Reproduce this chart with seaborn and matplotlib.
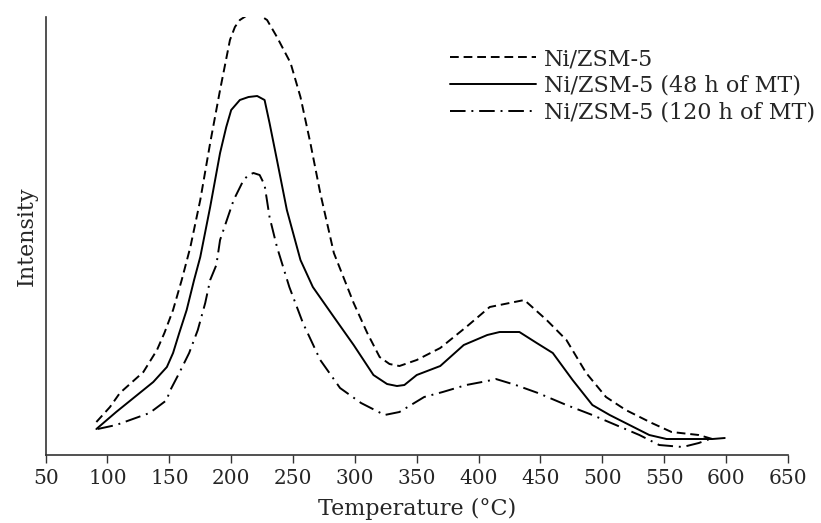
import numpy as np
import pandas as pd
import matplotlib
matplotlib.use("Agg")
import matplotlib.pyplot as plt
import seaborn as sns

# ---- data (intensity in arbitrary units) ----
t_fresh = [91, 102, 110, 129, 140, 146, 153, 160, 167, 175, 183, 191, 199, 203, 207, 212, 218,
           224, 229, 237, 248, 256, 264, 272, 283, 299, 310, 320, 328, 336, 350, 369, 390, 409,
           425, 437, 455, 471, 487, 503, 519, 540, 556, 578, 589]
i_fresh = [33, 48, 62, 83, 105, 122, 145, 175, 208, 255, 312, 365, 415, 428, 435, 439, 440,
           439, 435, 418, 392, 358, 312, 262, 202, 152, 122, 98, 91, 89, 95, 107, 128, 148,
           152, 155, 135, 115, 82, 58, 45, 32, 23, 20, 16]

t_48h = [91, 107, 124, 137, 148, 153, 158, 164, 170, 175, 183, 191, 196, 200, 207, 214, 221,
         227, 231, 237, 245, 256, 266, 283, 299, 315, 326, 334, 340, 350, 369, 388, 407, 417,
         433, 447, 460, 476, 492, 506, 522, 538, 552, 589, 599]
i_48h = [26, 43, 60, 73, 88, 102, 122, 145, 175, 198, 248, 302, 328, 345, 355, 358, 359,
         355, 332, 295, 245, 195, 168, 138, 110, 80, 71, 69, 70, 80, 89, 110, 120, 123,
         123, 112, 102, 75, 50, 40, 30, 20, 16, 16, 17]

t_120h = [92, 107, 134, 148, 150, 158, 166, 173, 179, 183, 188, 191, 202, 210, 214, 218, 223,
          227, 231, 237, 247, 258, 272, 288, 305, 324, 336, 356, 371, 390, 407, 414, 430, 448,
          471, 492, 511, 530, 546, 565, 578, 589]
i_120h = [26, 30, 42, 55, 63, 82, 102, 125, 152, 175, 190, 215, 255, 275, 280, 282, 280,
          270, 238, 208, 168, 132, 95, 67, 52, 40, 43, 58, 63, 70, 74, 76, 70, 62,
          50, 40, 30, 20, 10, 8, 12, 17]

labels = ["Ni/ZSM-5", "Ni/ZSM-5 (48 h of MT)", "Ni/ZSM-5 (120 h of MT)"]
x_ticks = [50, 100, 150, 200, 250, 300, 350, 400, 450, 500, 550, 600, 650]

df = pd.concat([
    pd.DataFrame({"T": t_fresh, "I": i_fresh, "Sample": labels[0]}),
    pd.DataFrame({"T": t_48h, "I": i_48h, "Sample": labels[1]}),
    pd.DataFrame({"T": t_120h, "I": i_120h, "Sample": labels[2]}),
], ignore_index=True)

sns.set_style("ticks")
plt.rcParams["font.family"] = ["DejaVu Serif"]
plt.rcParams["mathtext.fontset"] = "dejavuserif"

fig = plt.figure(figsize=(8.21, 5.23), dpi=100)
ax = fig.add_axes([0.0556, 0.130, 0.904, 0.8375])

sns.lineplot(data=df, x="T", y="I", style="Sample", style_order=labels,
             dashes={labels[0]: (4.5, 2.5), labels[1]: "", labels[2]: (8, 3, 1, 3)},
             color="black", linewidth=1.4, sort=False, estimator=None, ax=ax)

ax.set_xlim(50, 650)
ax.set_ylim(0, 438)
ax.set_xticks(x_ticks)
ax.set_yticks([])
ax.tick_params(axis="x", labelsize=14.5, length=6, width=1.0, color="#333333", pad=4)
for s in ["top", "right"]:
    ax.spines[s].set_visible(False)
for s in ["left", "bottom"]:
    ax.spines[s].set_linewidth(1.2)
    ax.spines[s].set_color("#333333")

ax.set_xlabel("Temperature (°C)", fontsize=16, labelpad=7)
ax.set_ylabel("Intensity", fontsize=16, labelpad=6)

leg = ax.legend(loc="upper left", bbox_to_anchor=(0.545, 0.929), frameon=False,
                fontsize=16, handlelength=3.85, handletextpad=0.36, labelspacing=0.22,
                borderaxespad=0, borderpad=0)
for line in leg.get_lines():
    line.set_linewidth(1.4)

fig.savefig("out.png", dpi=100)
